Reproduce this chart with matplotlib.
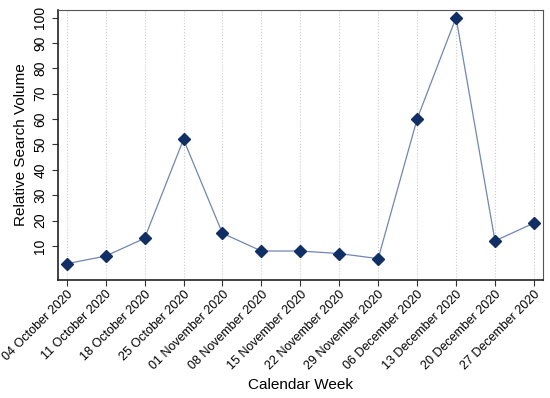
import matplotlib
matplotlib.use('Agg')
import matplotlib.pyplot as plt

plt.rcParams['font.family'] = ['Liberation Sans', 'DejaVu Sans']

# weekly relative search volume
weeks = ['04 October 2020', '11 October 2020', '18 October 2020', '25 October 2020',
         '01 November 2020', '08 November 2020', '15 November 2020', '22 November 2020',
         '29 November 2020', '06 December 2020', '13 December 2020', '20 December 2020',
         '27 December 2020']
volume = [3, 6, 13, 52, 15, 8, 8, 7, 5, 60, 100, 12, 19]
yticks = [10, 20, 30, 40, 50, 60, 70, 80, 90, 100]

fig = plt.figure(figsize=(5.5, 3.98), dpi=100)
ax = fig.add_axes([0.105, 0.296, 0.882, 0.679])

x = list(range(len(weeks)))
ax.plot(x, volume, color='#6f87b5', lw=0.9, zorder=2)
ax.plot(x, volume, ls='none', marker='D', ms=6, color='#0f2f66', zorder=3)

ax.set_xlim(-0.23, 12.23)
ax.set_ylim(-3.5, 103)
ax.set_xticks(x)
ax.set_xticklabels(weeks, rotation=45, ha='right', rotation_mode='anchor', fontsize=9)
ax.set_yticks(yticks)
ax.set_yticklabels([str(v) for v in yticks], rotation=90, va='center', fontsize=10)
ax.tick_params(axis='both', direction='out', length=4, width=0.8, color='#333333')
ax.tick_params(axis='x', pad=2)

ax.grid(axis='x', ls=':', color='#cccccc', lw=0.8, zorder=0)
for s in ax.spines.values():
    s.set_color('#555555')
    s.set_linewidth(0.8)
ax.spines['left'].set_color('#222222')
ax.spines['bottom'].set_color('#222222')
ax.spines['left'].set_linewidth(1.2)
ax.spines['bottom'].set_linewidth(1.2)

ax.set_ylabel('Relative Search Volume', fontsize=11)
ax.set_xlabel('Calendar Week', fontsize=11, labelpad=4)

fig.savefig('out.png', dpi=100)
